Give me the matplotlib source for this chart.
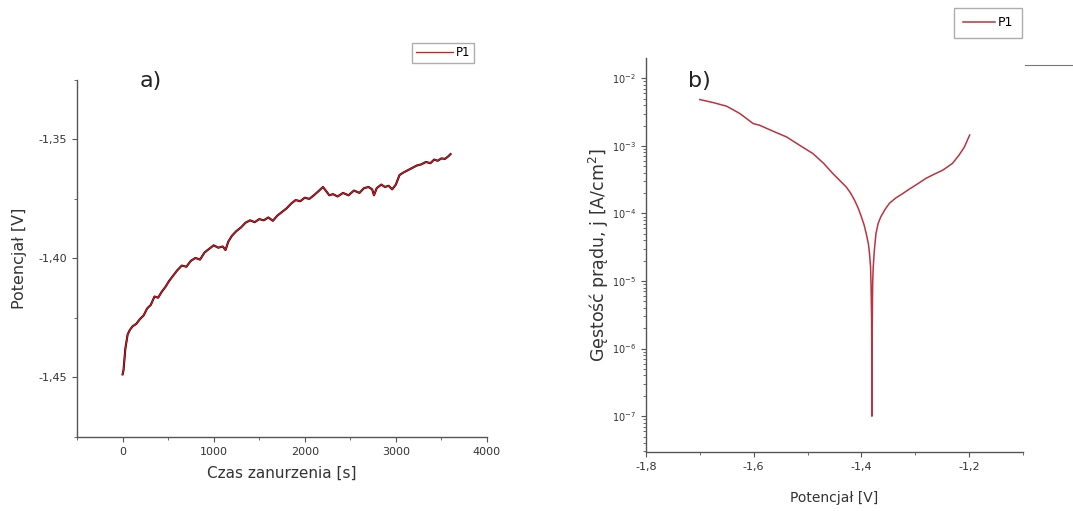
import numpy as np
import matplotlib
matplotlib.use('Agg')
from matplotlib import pyplot as plt
from matplotlib.ticker import FuncFormatter, MultipleLocator, LogLocator
from matplotlib.lines import Line2D

plt.rcParams['font.family'] = ['DejaVu Sans']

# a) open circuit potential vs immersion time
t_s = [0, 10, 30, 55, 80, 110, 150, 190, 230, 270, 310, 350, 390, 430, 470,
       510, 550, 600, 650, 700, 750, 800, 850, 900, 950, 1000, 1050, 1100,
       1130, 1160, 1200, 1250, 1300, 1350, 1400, 1450, 1500, 1550, 1600,
       1650, 1700, 1750, 1800, 1850, 1900, 1950, 2000, 2050, 2100, 2150,
       2200, 2230, 2270, 2310, 2360, 2420, 2480, 2540, 2600, 2650, 2700,
       2740, 2760, 2790, 2840, 2880, 2920, 2960, 3000, 3040, 3080, 3130,
       3180, 3230, 3280, 3330, 3380, 3420, 3460, 3500, 3540, 3580, 3600]
pot_v = [-1.4487, -1.4470, -1.4380, -1.4320, -1.4300, -1.4285, -1.4275,
         -1.4255, -1.4240, -1.4210, -1.4195, -1.4160, -1.4165, -1.4140,
         -1.4120, -1.4095, -1.4075, -1.4050, -1.4030, -1.4035, -1.4010,
         -1.3998, -1.4005, -1.3975, -1.3960, -1.3945, -1.3955, -1.3950,
         -1.3965, -1.3930, -1.3905, -1.3885, -1.3870, -1.3850, -1.3840,
         -1.3848, -1.3835, -1.3840, -1.3828, -1.3842, -1.3820, -1.3805,
         -1.3790, -1.3770, -1.3755, -1.3760, -1.3745, -1.3750, -1.3735,
         -1.3718, -1.3700, -1.3715, -1.3735, -1.3730, -1.3740, -1.3725,
         -1.3735, -1.3715, -1.3725, -1.3705, -1.3700, -1.3710, -1.3735,
         -1.3705, -1.3690, -1.3700, -1.3695, -1.3710, -1.3690, -1.3650,
         -1.3640, -1.3630, -1.3620, -1.3610, -1.3605, -1.3595, -1.3600,
         -1.3585, -1.3590, -1.3580, -1.3582, -1.3570, -1.3562]

# b) polarisation curve
e_v = [-1.700, -1.675, -1.650, -1.626, -1.601, -1.589, -1.565, -1.539,
       -1.515, -1.490, -1.470, -1.453, -1.438, -1.428, -1.420, -1.413,
       -1.406, -1.400, -1.395, -1.391, -1.387, -1.385, -1.383, -1.382,
       -1.381, -1.3805, -1.380, -1.3795, -1.379, -1.378, -1.376, -1.373,
       -1.369, -1.364, -1.356, -1.348, -1.336, -1.324, -1.311, -1.299,
       -1.280, -1.265, -1.249, -1.231, -1.219, -1.209, -1.199]
log_j = [-2.315, -2.36, -2.414, -2.52, -2.67, -2.695, -2.78, -2.868, -2.99,
         -3.114, -3.26, -3.41, -3.53, -3.61, -3.70, -3.80, -3.92, -4.05,
         -4.17, -4.30, -4.45, -4.59, -4.79, -5.1, -5.6, -7.0, -5.9, -5.3,
         -5.0, -4.79, -4.55, -4.30, -4.15, -4.05, -3.94, -3.85, -3.77,
         -3.71, -3.64, -3.58, -3.48, -3.42, -3.36, -3.26, -3.14, -3.02,
         -2.84]

spine_col = '#555555'
txt_col = '#333333'
comma = FuncFormatter(lambda v, p: ('%g' % v).replace('.', ','))
comma2 = FuncFormatter(lambda v, p: ('%.2f' % v).replace('.', ','))


def style_axes(ax):
    for s in ['top', 'right']:
        ax.spines[s].set_visible(False)
    for s in ['left', 'bottom']:
        ax.spines[s].set_color(spine_col)
        ax.spines[s].set_linewidth(1.0)
    ax.tick_params(which='both', direction='out', colors=spine_col,
                   labelcolor=txt_col, labelsize=8)
    ax.tick_params(which='major', length=3.5)
    ax.tick_params(which='minor', length=2)


fig = plt.figure(figsize=(10.73, 5.11), dpi=100)

#Panel a
ax1 = fig.add_axes([0.0718, 0.1448, 0.382, 0.699])
ax1.plot(t_s, pot_v, color='black', lw=1.5)
ax1.plot(t_s, pot_v, color='#e0141e', lw=0.9, label='P1')
ax1.set_xlim(-500, 4000)
ax1.set_ylim(-1.475, -1.325)
ax1.xaxis.set_major_locator(MultipleLocator(1000))
ax1.xaxis.set_minor_locator(MultipleLocator(500))
ax1.yaxis.set_major_locator(MultipleLocator(0.05))
ax1.yaxis.set_minor_locator(MultipleLocator(0.025))
ax1.yaxis.set_major_formatter(comma2)
style_axes(ax1)
ax1.set_xlabel('Czas zanurzenia [s]', fontsize=11, color=txt_col)
ax1.set_ylabel('Potencjał [V]', fontsize=11.5, color=txt_col)
ax1.xaxis.set_label_coords(0.5, -0.081)
ax1.yaxis.set_label_coords(-0.122, 0.5)
ax1.text(0.152, 0.997, 'a)', transform=ax1.transAxes, fontsize=16,
         va='center', ha='left', color='#222222')
ax1.legend(loc='upper left', bbox_to_anchor=(0.384, 0.916),
           bbox_transform=fig.transFigure, fontsize=8.5, frameon=True,
           fancybox=False, edgecolor='#999999', handlelength=3.2,
           borderpad=0.3, handletextpad=0.2, borderaxespad=0)

#Panel b
j = 10 ** np.array(log_j)
ax2 = fig.add_axes([0.602, 0.1155, 0.3514, 0.771])
ax2.plot(e_v, j, color='#bb3340', lw=1.1, label='P1')
ax2.set_yscale('log')
ax2.set_xlim(-1.8, -1.1)
ax2.set_ylim(10 ** -7.53, 10 ** -1.70)
ax2.xaxis.set_major_locator(MultipleLocator(0.2))
ax2.xaxis.set_minor_locator(MultipleLocator(0.1))
ax2.xaxis.set_major_formatter(comma)
ax2.yaxis.set_major_locator(LogLocator(base=10, numticks=12))
ax2.yaxis.set_minor_locator(LogLocator(base=10, subs=np.arange(2, 10),
                                       numticks=12))
style_axes(ax2)
ax2.tick_params(axis='y', labelsize=7)
ax2.set_xlabel('Potencjał [V]', fontsize=10, color=txt_col)
ax2.set_ylabel('Gęstość prądu, j [A/cm$^2$]', fontsize=12.5, color=txt_col)
ax2.xaxis.set_label_coords(0.5, -0.099)
ax2.yaxis.set_label_coords(-0.092, 0.5)
ax2.text(0.111, 0.942, 'b)', transform=ax2.transAxes, fontsize=16,
         va='center', ha='left', color='#222222')
ax2.legend(loc='upper left', bbox_to_anchor=(0.889, 0.985),
           bbox_transform=fig.transFigure, fontsize=9, frameon=True,
           fancybox=False, edgecolor='#999999', handlelength=2.6,
           borderpad=0.7, handletextpad=0.2, borderaxespad=0)

# short stray rule at the top right edge
fig.add_artist(Line2D([0.955, 1.0], [0.873, 0.873], color='#777777',
                      lw=0.8, transform=fig.transFigure))

fig.savefig('out.png', dpi=100)
